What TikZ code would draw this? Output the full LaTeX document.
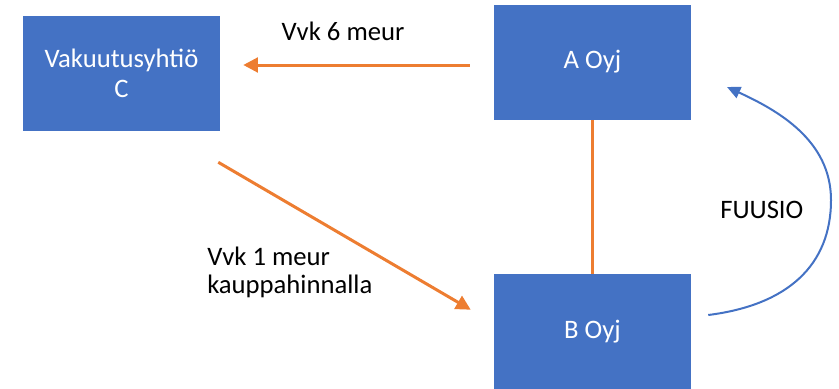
\documentclass[tikz,border=0pt]{standalone}
\usepackage{fontspec}
\setmainfont{Carlito}
\usetikzlibrary{arrows.meta,calc}
\definecolor{officeblue}{HTML}{4472C4}
\definecolor{officeorange}{HTML}{ED7D31}

\begin{document}
\begin{tikzpicture}[x=0.75pt,y=-0.75pt,
  font=\fontsize{20}{22.5}\selectfont,
  firm/.style={fill=officeblue,text=white,minimum width=147.75pt,minimum height=86.25pt,inner sep=0pt,align=center},
  flow/.style={officeorange,line width=2.25pt},
  merge/.style={officeblue,line width=1.5pt},
  label/.style={inner sep=0pt}]
  \useasboundingbox (0,0) rectangle (839,389);
  % yritykset
  \node[firm] (C) at (121.5,73.5) {Vakuutusyhtiö\\C};
  \node[firm] (A) at (592.5,62) {A Oyj};
  \node[firm] (B) at (592.5,331.5) {B Oyj};
  % kaupat
  \draw[flow,-{Triangle[length=11pt,width=11pt]},shorten <=18pt,shorten >=17.25pt] (A.west |- 0,65) -- (C.east |- 0,65);
  \draw[flow,-{Triangle[length=11pt,width=11pt]}] ($(C.south east)+(-2,31)$) -- ($(B.north west)+(-23,36)$);
  \draw[flow] (A.south) -- (B.north);
  \node[label,anchor=base] (l6) at (343,40) {Vvk 6 meur};
  \node[label,anchor=base west,align=left] (l1) at (207,293) {Vvk 1 meur\\[-1.5pt]kauppahinnalla};
  % fuusio
  \coordinate (fuse) at (727,87);
  \draw[merge,-{Triangle[length=10pt,width=9pt]}] ($(B.east)+(17,-16.5)$) .. controls (788,305) and (831,265) .. (831,200) .. controls (831,140) and (777,110) .. (fuse);
  \node[label,anchor=base west] (fu) at (720,218) {FUUSIO};
\end{tikzpicture}
\end{document}
